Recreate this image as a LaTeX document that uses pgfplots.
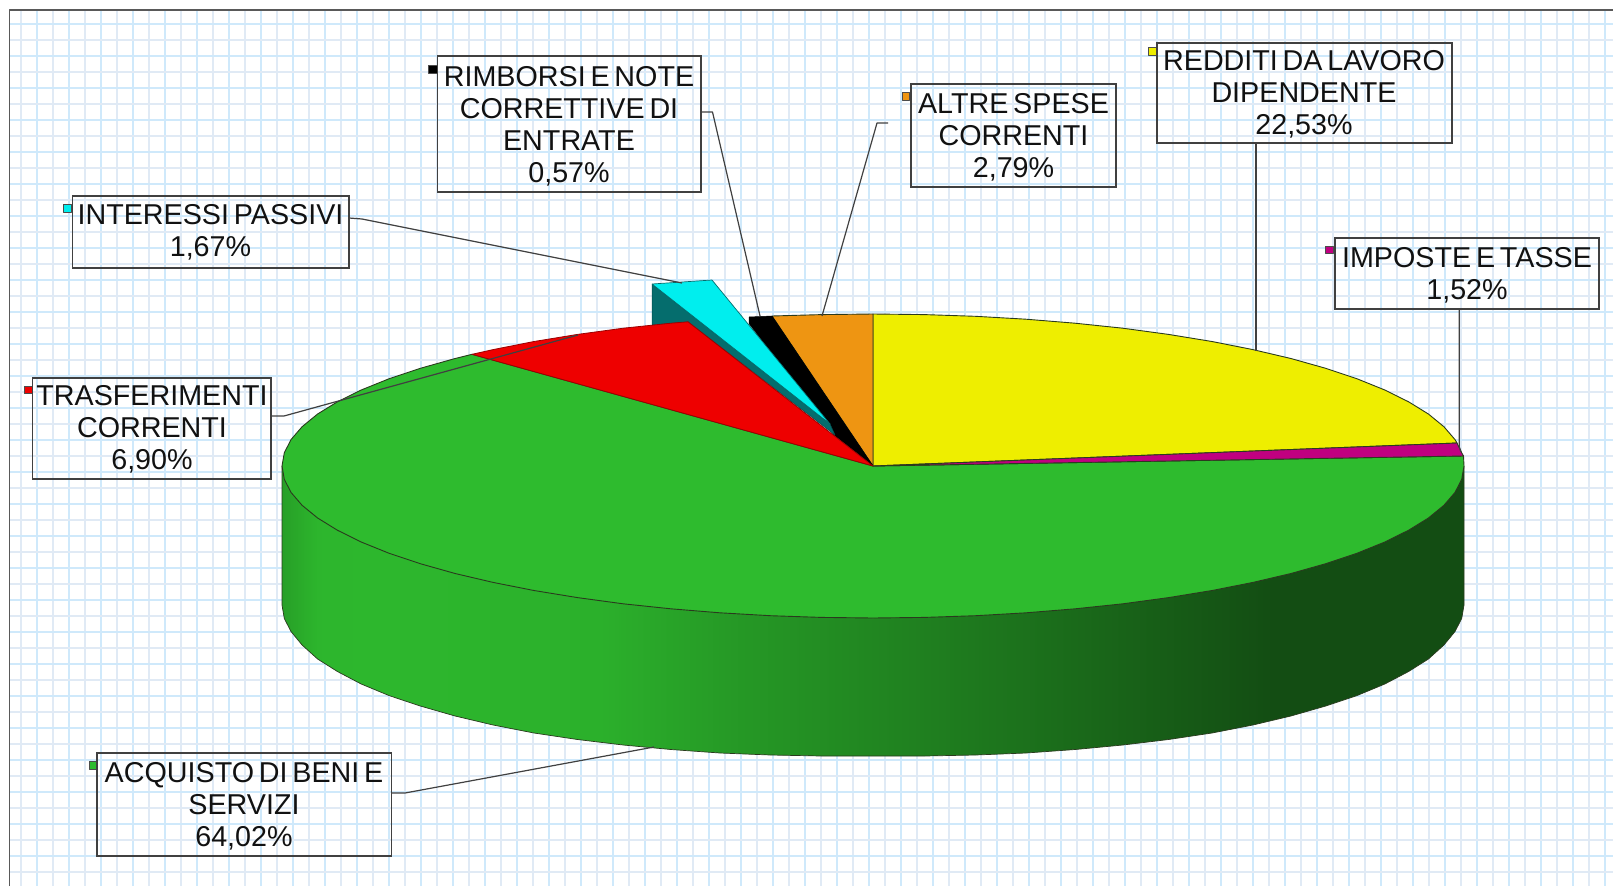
\documentclass[border=0pt]{standalone}
\usepackage{pgfplots}
\pgfplotsset{compat=1.18}
\usepackage{fontspec}
\setmainfont{Liberation Sans}[WordSpace=0.6]
\definecolor{gmaj}{HTML}{CFE9FB}
\definecolor{gmin}{HTML}{E0EAF5}
\definecolor{pyellow}{HTML}{EEEE00}
\definecolor{pmag}{HTML}{C00080}
\definecolor{pgreen}{HTML}{2EBB2E}
\definecolor{pred}{HTML}{EE0000}
\definecolor{pcyan}{HTML}{00EEEE}
\definecolor{pteal}{HTML}{056D6D}
\definecolor{porange}{HTML}{EE9512}
\definecolor{edge}{HTML}{2A3A1E}
\definecolor{txt}{HTML}{111111}
\pgfdeclarehorizontalshading{pieside}{100bp}{
 color(0bp)=(pgreen!85!black);
 color(25bp)=(pgreen!85!black);
 color(26.5bp)=(pgreen!97!black);
 color(29bp)=(pgreen!98!black);
 color(38.5bp)=(pgreen!94!black);
 color(44bp)=(pgreen!82!black);
 color(54bp)=(pgreen!65!black);
 color(67bp)=(pgreen!41!black);
 color(75bp)=(pgreen!41!black);
 color(100bp)=(pgreen!41!black)}
\tikzset{
 slice/.style={draw=edge, line width=0.9pt},
 lead/.style={draw=black!75, line width=1.2pt},
 key/.style={draw=black!70, line width=0.5pt},
 box/.style={draw=black!75, line width=1.2pt},
 lab/.style={text=txt, align=center, inner sep=0pt, font=\fontsize{28.7}{32}\selectfont},
}
\begin{document}
\begin{tikzpicture}
\path[use as bounding box] (0,0) rectangle (1613pt,886pt);
\begin{axis}[
 at={(0,0)}, anchor=south west,
 scale only axis, width=1613pt, height=886pt,
 xmin=0, xmax=1613, ymin=0, ymax=886, y dir=reverse,
 axis line style={draw=none},
 major tick length=0pt, minor tick length=0pt,
 xtick={37,69,...,1605}, minor xtick={21,53,...,1605},
 ytick={24,56,...,886}, minor ytick={40,72,...,886},
 xticklabels={}, yticklabels={},
 grid=both,
 major grid style={draw=gmaj, line width=1.7pt},
 minor grid style={draw=gmin, line width=1.7pt},
 clip=true,
 every axis plot/.append style={line join=round, no markers},
]
% surround of the frame
\addplot[fill=white, draw=none] coordinates {(0,0)(1613,0)(1613,10)(0,10)(0,0)};
\addplot[fill=white, draw=none] coordinates {(0,0)(9.5,0)(9.5,886)(0,886)(0,0)};
\addplot[draw=black!65, line width=1.6pt] coordinates {(9.5,886)(9.5,10)(1613,10)};

% side wall of the pie
\addplot[shading=pieside, draw=edge, line width=0.7pt] coordinates {
(282,466)(282,605)(284.3,618.5)(291,631.5)(302.1,645)(317.6,659)(337.4,671.5)(361.2,684)(388.9,695.5)(420.3,706)(455.1,716)(493.1,725)(534,733)(577.5,739.5)(623.2,745)(670.9,749.5)(720,753)(770.4,755)(821.5,756)(873,756)(924.5,756)(975.6,755)(1026,753)(1075.1,749.5)(1122.8,745)(1168.5,739.5)(1212,733)(1252.9,725)(1290.9,716)(1325.7,706)(1357.1,695.5)(1384.8,684)(1408.6,671.5)(1428.4,659)(1443.9,645)(1455,631.5)(1461.7,618.5)(1464,605)(1464,466)(282,466)};

% green top: ACQUISTO DI BENI E SERVIZI 64,02
\addplot[fill=pgreen, slice] coordinates {
(873,466)(1463.5,456)(1464,466)(1461.7,479.2)(1455,492.4)(1443.9,505.3)(1428.4,518)(1408.6,530.2)(1384.8,542)(1357.1,553.2)(1325.7,563.7)(1290.9,573.5)(1252.9,582.4)(1212,590.5)(1168.5,597.6)(1122.8,603.8)(1075.1,608.8)(1026,612.8)(975.6,615.7)(924.5,617.4)(873,618)(821.5,617.4)(770.4,615.7)(720,612.8)(670.9,608.8)(623.2,603.8)(577.5,597.6)(534,590.5)(493.1,582.4)(455.1,573.5)(420.3,563.7)(388.9,553.2)(361.2,542)(337.4,530.2)(317.6,518)(302.1,505.3)(291,492.4)(284.3,479.2)(282,466)(284.3,452.8)(291,439.6)(302.1,426.7)(317.6,414)(337.4,401.8)(361.2,390)(388.9,378.8)(420.3,368.3)(455.1,358.5)(472,354.3)(873,466)};

% yellow: REDDITI 22,53
\addplot[fill=pyellow, slice] coordinates {
(873,466)(873,314)(924.5,314.6)(975.6,316.3)(1026,319.2)(1075.1,323.2)(1122.8,328.2)(1168.5,334.4)(1212,341.5)(1252.9,349.6)(1290.9,358.5)(1325.7,368.3)(1357.1,378.8)(1384.8,390)(1408.6,401.8)(1428.4,414)(1443.9,426.7)(1455,439.6)(1457,443)(873,466)};

% magenta: IMPOSTE 1,52
\addplot[fill=pmag, slice] coordinates {(873,466)(1457,443)(1461.7,452.8)(1463.5,456)(873,466)};

% orange: ALTRE SPESE 2,79
\addplot[fill=porange, slice] coordinates {(873,466)(772,316)(821.5,314.6)(873,314)(873,466)};

% black: RIMBORSI 0,57
\addplot[fill=black, draw=black, line width=0.5pt] coordinates {(749,317)(772,316)(873,466)(834,435)(749,323.5)(749,317)};

% exploded cyan: side face, then top
\addplot[fill=pteal, draw=pteal!70!black, line width=0.5pt] coordinates {(652,284)(652,325)(688,322)(835,435)(830,424)(652,284)};
\addplot[fill=pcyan, draw=pteal, line width=0.7pt] coordinates {(652,284)(712,280)(830,424)(652,284)};

% red: TRASFERIMENTI 6,90
\addplot[fill=pred, draw=pred!65!black, line width=0.8pt] coordinates {
(873,466)(472,354.3)(493.1,349.6)(534,341.5)(577.5,334.4)(623.2,328.2)(670.9,323.2)(688,321.8)(873,466)};

% leader lines
\addplot[lead] coordinates {(349,218)(362,219)(682,283)};
\addplot[lead] coordinates {(701,112)(712.5,112)(760,316)};
\addplot[lead] coordinates {(888,123)(877,123)(822,316)};
\addplot[lead] coordinates {(1256,143)(1256,351)};
\addplot[lead] coordinates {(1459.3,309)(1459.3,447)(1461,452)};
\addplot[lead] coordinates {(271,416)(284,416)(578,335)};
\addplot[lead] coordinates {(391,793)(405,793)(654,747)};

% legend keys
\addplot[fill=pcyan, key] coordinates {(63.5,204)(71.5,204)(71.5,212)(63.5,212)(63.5,204)};
\addplot[fill=black, key] coordinates {(428,65)(437,65)(437,73)(428,73)(428,65)};
\addplot[fill=porange, key] coordinates {(902,92)(909.5,92)(909.5,100)(902,100)(902,92)};
\addplot[fill=pyellow, key] coordinates {(1148,47)(1156,47)(1156,55)(1148,55)(1148,47)};
\addplot[fill=pmag, key] coordinates {(1325,246)(1333,246)(1333,253)(1325,253)(1325,246)};
\addplot[fill=pred, key] coordinates {(24,386)(32,386)(32,393.5)(24,393.5)(24,386)};
\addplot[fill=pgreen, key] coordinates {(89,761)(97,761)(97,769)(89,769)(89,761)};

% label boxes
\draw[box] (axis cs:72.3,196) rectangle (axis cs:349,268);
\draw[box] (axis cs:437.4,56) rectangle (axis cs:701,192);
\draw[box] (axis cs:911,84) rectangle (axis cs:1116,187);
\draw[box] (axis cs:1157,43) rectangle (axis cs:1452,143);
\draw[box] (axis cs:1335,238) rectangle (axis cs:1599,309);
\draw[box] (axis cs:32.7,378) rectangle (axis cs:271,479);
\draw[box] (axis cs:97,753) rectangle (axis cs:391.5,856);

\node[lab] at (axis cs:210.5,232) {INTERESSI PASSIVI\\1,67\%};
\node[lab] at (axis cs:569,126) {RIMBORSI E NOTE\\CORRETTIVE DI\\ENTRATE\\0,57\%};
\node[lab] at (axis cs:1013.5,137) {ALTRE SPESE\\CORRENTI\\2,79\%};
\node[lab] at (axis cs:1304,94) {REDDITI DA LAVORO\\DIPENDENTE\\22,53\%};
\node[lab] at (axis cs:1467,275) {IMPOSTE E TASSE\\1,52\%};
\node[lab] at (axis cs:152,429.5) {TRASFERIMENTI\\CORRENTI\\6,90\%};
\node[lab] at (axis cs:244,806) {ACQUISTO DI BENI E\\SERVIZI\\64,02\%};
\end{axis}
\end{tikzpicture}
\end{document}
